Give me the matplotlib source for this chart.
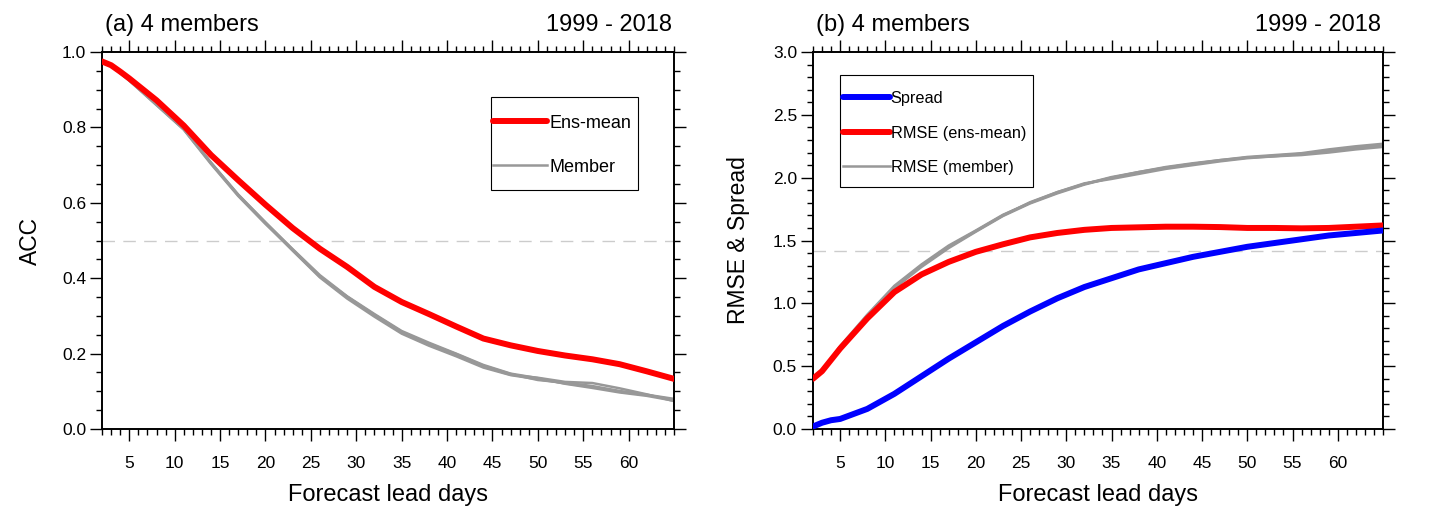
import numpy as np
import matplotlib
matplotlib.use("Agg")
import matplotlib.pyplot as plt
from matplotlib.patches import Rectangle
from matplotlib.ticker import MultipleLocator, FormatStrFormatter

plt.rcParams['font.family'] = ['Liberation Sans', 'DejaVu Sans']

# lead days used for the curves
lead = [2, 3, 4, 5, 8, 11, 14, 17, 20, 23, 26, 29, 32, 35, 38, 41, 44, 47, 50, 53, 56, 59, 62, 65]

# (a) ACC
acc_ens = [0.975, 0.965, 0.948, 0.930, 0.872, 0.805, 0.727, 0.660, 0.595, 0.533, 0.478, 0.430,
           0.377, 0.337, 0.305, 0.272, 0.240, 0.222, 0.207, 0.195, 0.185, 0.172, 0.153, 0.133]
acc_m1 = [0.975, 0.963, 0.945, 0.925, 0.860, 0.795, 0.705, 0.620, 0.546, 0.473, 0.402, 0.346,
          0.298, 0.253, 0.221, 0.193, 0.163, 0.143, 0.132, 0.121, 0.112, 0.099, 0.090, 0.078]
acc_m2 = [0.975, 0.964, 0.946, 0.926, 0.862, 0.797, 0.707, 0.622, 0.548, 0.477, 0.408, 0.352,
          0.305, 0.260, 0.229, 0.200, 0.170, 0.147, 0.135, 0.120, 0.109, 0.097, 0.088, 0.075]
acc_m3 = [0.975, 0.963, 0.944, 0.924, 0.859, 0.794, 0.703, 0.618, 0.544, 0.474, 0.405, 0.350,
          0.303, 0.258, 0.226, 0.199, 0.168, 0.146, 0.130, 0.123, 0.114, 0.101, 0.091, 0.080]
acc_m4 = [0.975, 0.962, 0.945, 0.925, 0.861, 0.796, 0.706, 0.621, 0.548, 0.476, 0.404, 0.351,
          0.302, 0.256, 0.224, 0.196, 0.166, 0.144, 0.136, 0.125, 0.122, 0.108, 0.092, 0.074]

# (b) RMSE & spread
spread = [0.02, 0.05, 0.07, 0.08, 0.16, 0.28, 0.42, 0.56, 0.69, 0.82, 0.935, 1.04,
          1.13, 1.20, 1.27, 1.32, 1.37, 1.41, 1.45, 1.48, 1.51, 1.54, 1.56, 1.58]
rmse_ens = [0.40, 0.46, 0.55, 0.64, 0.88, 1.09, 1.23, 1.33, 1.41, 1.47, 1.525, 1.56,
            1.585, 1.60, 1.605, 1.61, 1.61, 1.607, 1.60, 1.60, 1.597, 1.60, 1.61, 1.62]
rmse_m1 = [0.40, 0.47, 0.56, 0.65, 0.90, 1.13, 1.30, 1.45, 1.575, 1.70, 1.80, 1.88,
           1.95, 2.00, 2.04, 2.08, 2.11, 2.135, 2.16, 2.175, 2.19, 2.215, 2.24, 2.26]
rmse_m2 = [0.40, 0.47, 0.56, 0.66, 0.91, 1.14, 1.31, 1.46, 1.58, 1.705, 1.80, 1.885,
           1.955, 1.99, 2.03, 2.07, 2.10, 2.13, 2.155, 2.17, 2.18, 2.20, 2.225, 2.245]
rmse_m3 = [0.40, 0.47, 0.55, 0.65, 0.90, 1.12, 1.29, 1.44, 1.57, 1.695, 1.795, 1.875,
           1.945, 2.00, 2.045, 2.085, 2.115, 2.14, 2.165, 2.18, 2.195, 2.225, 2.25, 2.27]
rmse_m4 = [0.40, 0.47, 0.56, 0.65, 0.90, 1.13, 1.30, 1.45, 1.575, 1.70, 1.805, 1.885,
           1.95, 2.005, 2.045, 2.08, 2.11, 2.14, 2.16, 2.17, 2.19, 2.21, 2.235, 2.255]

xticks = [5, 10, 15, 20, 25, 30, 35, 40, 45, 50, 55, 60]
gray = '#989898'

fig = plt.figure(figsize=(14.29, 5.13), dpi=100)
ax1 = fig.add_axes([0.0714, 0.1637, 0.4003, 0.7349])
ax2 = fig.add_axes([0.5689, 0.1637, 0.3989, 0.7349])


def style(ax, ymax, ymajor, yminor):
    ax.set_xlim(2, 65)
    ax.set_ylim(0, ymax)
    ax.set_xticks(xticks)
    ax.xaxis.set_minor_locator(MultipleLocator(1))
    ax.yaxis.set_major_locator(MultipleLocator(ymajor))
    ax.yaxis.set_minor_locator(MultipleLocator(yminor))
    ax.yaxis.set_major_formatter(FormatStrFormatter('%.1f'))
    ax.tick_params(which='both', direction='out', top=True, right=True, width=1.0, colors='black')
    ax.tick_params(which='major', length=8.5, labelsize=12.5)
    ax.tick_params(which='minor', length=4.3)
    ax.tick_params(axis='x', which='major', pad=11)
    ax.tick_params(axis='y', which='major', pad=3)
    for s in ax.spines.values():
        s.set_linewidth(1.4)
    ax.set_xlabel('Forecast lead days', fontsize=17)
    ax.xaxis.set_label_coords(0.5, -0.145)


def legend_box(ax, x0, y0, x1, y1):
    ax.add_patch(Rectangle((x0, y0), x1 - x0, y1 - y0, transform=ax.transAxes,
                           facecolor='white', edgecolor='black', lw=0.8, zorder=6))


# panel (a)
ax1.axhline(0.5, color='#cccccc', lw=1.0, dashes=(9, 6), zorder=1)
for m in [acc_m1, acc_m2, acc_m3, acc_m4]:
    ax1.plot(lead, m, color=gray, lw=1.8, zorder=2)
ax1.plot(lead, acc_ens, color='red', lw=4.3, solid_capstyle='round', zorder=3, label='Ens-mean')
ax1.plot([], [], color=gray, lw=1.8, label='Member')
style(ax1, 1.0, 0.2, 0.05)
ax1.set_ylabel('ACC', fontsize=16.5)
ax1.yaxis.set_label_coords(-0.105, 0.5)
ax1.text(0.006, 1.056, '(a) 4 members', transform=ax1.transAxes, fontsize=17, ha='left', va='baseline')
ax1.text(0.996, 1.056, '1999 - 2018', transform=ax1.transAxes, fontsize=17, ha='right', va='baseline')
legend_box(ax1, 0.68, 0.634, 0.937, 0.88)
leg1 = ax1.legend(loc='center left', bbox_to_anchor=(0.684, 0.753), fontsize=13, frameon=False,
                  handlelength=2.95, handletextpad=0.17, labelspacing=1.5,
                  borderpad=0, borderaxespad=0)
leg1.set_zorder(7)

# panel (b)
ax2.axhline(np.sqrt(2), color='#cccccc', lw=1.0, dashes=(9, 6), zorder=1)
for m in [rmse_m1, rmse_m2, rmse_m3, rmse_m4]:
    ax2.plot(lead, m, color=gray, lw=1.8, zorder=2)
ax2.plot(lead, rmse_ens, color='red', lw=4.3, solid_capstyle='round', zorder=3)
ax2.plot(lead, spread, color='blue', lw=4.3, solid_capstyle='round', zorder=4)
ax2.plot([], [], color='blue', lw=4.3, solid_capstyle='round', label='Spread')
ax2.plot([], [], color='red', lw=4.3, solid_capstyle='round', label='RMSE (ens-mean)')
ax2.plot([], [], color=gray, lw=1.8, label='RMSE (member)')
style(ax2, 3.0, 0.5, 0.1)
ax2.set_ylabel('RMSE & Spread', fontsize=16.5)
ax2.yaxis.set_label_coords(-0.11, 0.5)
ax2.text(0.006, 1.056, '(b) 4 members', transform=ax2.transAxes, fontsize=17, ha='left', va='baseline')
ax2.text(0.996, 1.056, '1999 - 2018', transform=ax2.transAxes, fontsize=17, ha='right', va='baseline')
legend_box(ax2, 0.047, 0.642, 0.386, 0.939)
leg2 = ax2.legend(loc='center left', bbox_to_anchor=(0.052, 0.785), fontsize=11.7, frameon=False,
                  handlelength=2.9, handletextpad=0.06, labelspacing=1.2,
                  borderpad=0, borderaxespad=0)
leg2.set_zorder(7)

fig.savefig('out.png', dpi=100)
